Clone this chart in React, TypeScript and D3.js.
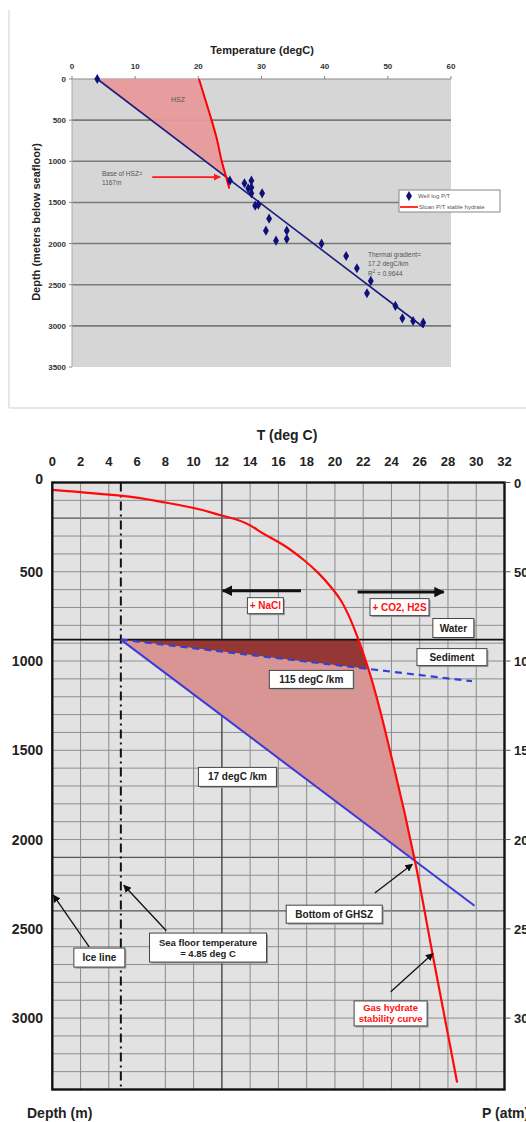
import React from 'react';
import * as d3 from 'd3';

// ---------- top panel: well log temperatures ----------
const wellTempTicks = [0, 10, 20, 30, 40, 50, 60];
const wellDepthTicks = [0, 500, 1000, 1500, 2000, 2500, 3000, 3500];
const wellLogTemp = [4, 25, 27.3, 28.4, 27.9, 28.4, 28.4, 30.1, 29, 29.5, 31.2, 30.7, 34, 32.3, 34, 39.5, 43.4, 45.1, 47.3, 46.7, 51.2, 52.3, 54, 55.6];
const wellLogDepth = [0, 1236, 1267, 1236, 1329, 1318, 1389, 1389, 1539, 1528, 1697, 1843, 1843, 1965, 1944, 2001, 2151, 2300, 2454, 2604, 2758, 2908, 2941, 2961];
const sloanTemp = [20.1, 21.1, 22.1, 23.0, 23.7, 24.4, 24.9];
const sloanDepth = [0, 250, 500, 750, 1000, 1190, 1330];
const trendTemp = [4, 55.7];
const trendDepth = [0, 3020];

// ---------- bottom panel: stability diagram ----------
const tempTicks = [0, 2, 4, 6, 8, 10, 12, 14, 16, 18, 20, 22, 24, 26, 28, 30, 32];
const depthTicks = [0, 500, 1000, 1500, 2000, 2500, 3000];
const pressureTicks = [0, 50, 100, 150, 200, 250, 300];
const hydrateTemp = [0, 4.8, 8, 10, 12, 12.8, 15.1, 16.35, 17.8, 18.85, 19.7, 20.4, 21.0, 21.65, 22.35, 24.1, 25.7, 26.9, 28.65];
const hydrateDepth = [41, 74, 112, 143, 185, 202, 294, 350, 434, 509, 584, 658, 750, 878, 1040, 1570, 2134, 2638, 3361];
const seafloorDepth = 880;
const seafloorTemp = 4.85;
const grad17Temp = [4.85, 29.88];
const grad17Depth = [880, 2371];
const grad115Temp = [4.85, 29.7];
const grad115Depth = [880, 1113];

// boxes: [text lines, T, depth, width, height, colour]
const boxes: [string[], number, number, number, number, string][] = [
  [['+ NaCl'], 15.08, 690, 36, 16, '#ff1010'],
  [['+ CO2, H2S'], 24.57, 698, 59, 17, '#ff1010'],
  [['Water'], 28.38, 815, 41, 19, '#222'],
  [['Sediment'], 28.28, 978, 70, 17, '#222'],
  [['115 degC /km'], 18.33, 1103, 84, 18, '#222'],
  [['17 degC /km'], 13.1, 1649, 78, 19, '#222'],
  [['Bottom of GHSZ'], 19.95, 2418, 96, 18, '#222'],
  [['Ice line'], 3.33, 2661, 51, 19, '#222'],
  [['Sea floor temperature', '= 4.85 deg C'], 11.02, 2605, 117, 29, '#222'],
  [['Gas hydrate', 'stability curve'], 23.94, 2974, 73, 25, '#ff1010'],
];
// pointer arrows: [T1, d1, T2, d2, width]
const pointers: [number, number, number, number, number][] = [
  [17.6, 606, 12.05, 606, 3],
  [21.6, 614, 27.7, 614, 3],
  [22.82, 2299, 25.48, 2138, 1.3],
  [2.61, 2601, 0.07, 2311, 1.3],
  [8.07, 2511, 5.06, 2256, 1.3],
  [23.95, 2852, 26.94, 2638, 1.3],
];

const font = 'Liberation Sans, Arial, sans-serif';

function crossDepth(f: (d: number) => number, g: (d: number) => number, lo: number, hi: number) {
  let a = lo, b = hi;
  const s = Math.sign(f(a) - g(a));
  for (let i = 0; i < 60; i++) {
    const m = (a + b) / 2;
    if (Math.sign(f(m) - g(m)) === s) a = m; else b = m;
  }
  return (a + b) / 2;
}

function TopChart() {
  const x = d3.scaleLinear().domain([0, 60]).range([72, 451]);
  const y = d3.scaleLinear().domain([0, 3500]).range([79, 367]);
  const sloanT = d3.scaleLinear().domain(sloanDepth).range(sloanTemp);
  const trendT = d3.scaleLinear().domain(trendDepth).range(trendTemp);
  const base = crossDepth(sloanT, trendT, 0, 1330);

  const line = d3.line<[number, number]>().x(p => x(p[0])).y(p => y(p[1]));
  const smooth = d3.line<[number, number]>().x(p => x(p[0])).y(p => y(p[1])).curve(d3.curveMonotoneY);
  const sloanPts: [number, number][] = sloanDepth.map((d, i) => [sloanTemp[i], d]);
  const hszCurve: [number, number][] = [];
  sloanPts.forEach(p => { if (p[1] < base) hszCurve.push(p); });
  hszCurve.push([sloanT(base), base]);
  const hszPath = `M${x(trendT(0))},${y(0)}L` + (smooth(hszCurve) || '').slice(1) + 'Z';

  const diamond = d3.symbol().type(d3.symbolDiamond).size(30)();

  return (
    <g fontFamily={font}>
      <line x1={9} y1={10} x2={9} y2={408} stroke="#cfcfcf" />
      <line x1={9} y1={408} x2={526} y2={408} stroke="#cfcfcf" />
      <rect x={x(0)} y={y(0)} width={x(60) - x(0)} height={y(3500) - y(0)} fill="#d6d6d6" />
      {wellDepthTicks.slice(1, -1).map(d => (
        <line key={d} x1={x(0)} x2={x(60)} y1={y(d)} y2={y(d)} stroke="#7a7a7a" strokeWidth={1.6} />
      ))}
      <line x1={x(0)} x2={x(60)} y1={y(0)} y2={y(0)} stroke="#8a8a8a" strokeWidth={1.2} />
      <line x1={x(0)} x2={x(0)} y1={y(0)} y2={y(3500)} stroke="#aaa" strokeWidth={1} />
      {wellTempTicks.map(t => (
        <g key={t}>
          <line x1={x(t)} x2={x(t)} y1={y(0) - 3} y2={y(0)} stroke="#888" />
          <text x={x(t)} y={69} textAnchor="middle" fontSize={8} fontWeight="bold" fill="#333">{t}</text>
        </g>
      ))}
      {wellDepthTicks.map(d => (
        <g key={d}>
          <line x1={x(0) - 3} x2={x(0)} y1={y(d)} y2={y(d)} stroke="#888" />
          <text x={66} y={y(d) + 3} textAnchor="end" fontSize={8} fontWeight="bold" fill="#333">{d}</text>
        </g>
      ))}
      <text x={262} y={54} textAnchor="middle" fontSize={11} fontWeight="bold" fill="#222">Temperature (degC)</text>
      <text transform="translate(40,222) rotate(-90)" textAnchor="middle" fontSize={11} fontWeight="bold" fill="#222">Depth (meters below seafloor)</text>

      <path d={hszPath} fill="#e89a9a" opacity={0.95} />
      <text x={178} y={102} textAnchor="middle" fontSize={7} fill="#555">HSZ</text>
      <path d={line(trendDepth.map((d, i) => [trendTemp[i], d]) as [number, number][]) || ''} stroke="#1c1c7c" strokeWidth={1.6} fill="none" />
      <path d={smooth(sloanPts) || ''} stroke="#ff0000" strokeWidth={2} fill="none" />
      {wellLogTemp.map((t, i) => (
        <path key={i} d={diamond || ''} transform={`translate(${x(t)},${y(wellLogDepth[i])})`} fill="#10107a" />
      ))}

      <line x1={x(12.7)} x2={x(sloanT(base)) - 6} y1={y(base)} y2={y(base)} stroke="#ff1a1a" strokeWidth={1.8} markerEnd="url(#arrRed)" />
      <text x={102} y={176} fontSize={6.5} fill="#555">Base of HSZ=</text>
      <text x={102} y={185} fontSize={6.5} fill="#555">1167m</text>

      <text x={368} y={257} fontSize={6.5} fill="#555">Thermal gradient=</text>
      <text x={368} y={266} fontSize={6.5} fill="#555">17.2 degC/km</text>
      <text x={368} y={276} fontSize={6.5} fill="#555">R<tspan dy={-3} fontSize={4.5}>2</tspan><tspan dy={3}> = 0.9644</tspan></text>

      <rect x={399} y={190} width={101} height={22} fill="#fff" stroke="#888" />
      <path d={diamond || ''} transform="translate(409,196)" fill="#10107a" />
      <text x={418} y={198} fontSize={6} fill="#555">Well log P/T</text>
      <line x1={400} x2={418} y1={207} y2={207} stroke="#ff1a1a" strokeWidth={1.8} />
      <text x={419} y={209} fontSize={6} fill="#555">Sloan P/T stable hydrate</text>
    </g>
  );
}

function BottomChart() {
  const x = d3.scaleLinear().domain([0, 32]).range([52.3, 504.5]);
  const y = d3.scaleLinear().domain([0, 3400]).range([482.5, 1089.5]);
  const hydT = d3.scaleLinear().domain(hydrateDepth).range(hydrateTemp);
  const solidT = d3.scaleLinear().domain(grad17Depth).range(grad17Temp);
  const dashT = d3.scaleLinear().domain(grad115Depth).range(grad115Temp);
  const dashCross = crossDepth(hydT, dashT, seafloorDepth, grad115Depth[1]);
  const solidCross = crossDepth(hydT, solidT, seafloorDepth, grad17Depth[1]);

  const line = d3.line<[number, number]>().x(p => x(p[0])).y(p => y(p[1]));
  const smooth = d3.line<[number, number]>().x(p => x(p[0])).y(p => y(p[1])).curve(d3.curveMonotoneY);
  const hydPts: [number, number][] = hydrateDepth.map((d, i) => [hydrateTemp[i], d]);

  const curveBetween = (d1: number, d2: number) => {
    const pts: [number, number][] = [[hydT(d1), d1]];
    hydPts.forEach(p => { if (p[1] > d1 && p[1] < d2) pts.push(p); });
    pts.push([hydT(d2), d2]);
    return (smooth(pts) || '').slice(1);
  };
  const darkPath = `M${x(seafloorTemp)},${y(seafloorDepth)}L` + curveBetween(seafloorDepth, dashCross) + 'Z';
  const pinkPath = `M${x(seafloorTemp)},${y(seafloorDepth)}L` + curveBetween(dashCross, solidCross) + 'Z';

  const gridDepths = d3.range(100, 3400, 100);
  const darkGrid = [200, 2100, 2400];

  return (
    <g fontFamily={font}>
      <defs>
        <clipPath id="plot2">
          <rect x={x(0)} y={y(0)} width={x(32) - x(0)} height={y(3400) - y(0)} />
        </clipPath>
      </defs>
      <rect x={x(0)} y={y(0)} width={x(32) - x(0)} height={y(3400) - y(0)} fill="#e2e2e2" />
      {gridDepths.map(d => (
        <line key={d} x1={x(0)} x2={x(32)} y1={y(d)} y2={y(d)}
          stroke={darkGrid.includes(d) ? '#555' : '#8f8f8f'} strokeWidth={darkGrid.includes(d) ? 1.3 : 1} />
      ))}
      {tempTicks.filter(t => t > 0 && t < 32 && t !== 6).map(t => (
        <line key={t} x1={x(t)} x2={x(t)} y1={y(0)} y2={y(3400)}
          stroke={t === 12 ? '#444' : '#8a8a8a'} strokeWidth={t === 12 ? 1.4 : 1} />
      ))}

      <g clipPath="url(#plot2)">
        <path d={pinkPath} fill="#d99594" />
        <path d={darkPath} fill="#953735" />
        <line x1={x(0)} x2={x(32)} y1={y(seafloorDepth)} y2={y(seafloorDepth)} stroke="#111" strokeWidth={1.8} />
        <line x1={x(seafloorTemp)} x2={x(seafloorTemp)} y1={y(0)} y2={y(3400)} stroke="#111" strokeWidth={2} strokeDasharray="9,4,2,4" />
        <path d={line(grad115Depth.map((d, i) => [grad115Temp[i], d]) as [number, number][]) || ''} stroke="#3342d6" strokeWidth={2.2} strokeDasharray="7,5" fill="none" />
        <path d={line(grad17Depth.map((d, i) => [grad17Temp[i], d]) as [number, number][]) || ''} stroke="#3a3ad8" strokeWidth={2} fill="none" />
        <path d={smooth(hydPts) || ''} stroke="#ff0a0a" strokeWidth={2.2} fill="none" />
      </g>

      <rect x={x(0)} y={y(0)} width={x(32) - x(0)} height={y(3400) - y(0)} fill="none" stroke="#111" strokeWidth={2.4} />

      {tempTicks.map(t => (
        <text key={t} x={x(t)} y={466} textAnchor="middle" fontSize={13} fontWeight="bold" fill="#222">{t}</text>
      ))}
      {depthTicks.map(d => (
        <text key={d} x={43} y={d === 0 ? 484 : y(d) + 5} textAnchor="end" fontSize={14} fontWeight="bold" fill="#222">{d}</text>
      ))}
      {pressureTicks.map((p, i) => (
        <g key={p}>
          <line x1={x(32)} x2={x(32) + 6} y1={y(depthTicks[i])} y2={y(depthTicks[i])} stroke="#555" />
          <text x={514} y={y(depthTicks[i]) + 5} fontSize={13} fontWeight="bold" fill="#222">{p}</text>
        </g>
      ))}
      <text x={287} y={440} textAnchor="middle" fontSize={14} fontWeight="bold" fill="#222">T (deg C)</text>
      <text x={27} y={1118} fontSize={14} fontWeight="bold" fill="#222">Depth (m)</text>
      <text x={482} y={1118} fontSize={14} fontWeight="bold" fill="#222">P (atm)</text>

      {pointers.map((p, i) => (
        <line key={i} x1={x(p[0])} y1={y(p[1])} x2={x(p[2])} y2={y(p[3])} stroke="#111" strokeWidth={p[4]}
          markerEnd={p[4] > 2 ? 'url(#arrBig)' : 'url(#arrSmall)'} />
      ))}

      {boxes.map(([lines, t, d, w, h, c], i) => (
        <g key={i} transform={`translate(${x(t)},${y(d)})`}>
          <rect x={-w / 2 + 1.5} y={-h / 2 + 1.5} width={w} height={h} fill="#9a9a9a" />
          <rect x={-w / 2} y={-h / 2} width={w} height={h} fill="#fff" stroke="#444" strokeWidth={1} />
          {lines.map((s, k) => (
            <text key={k} x={0} y={(k - (lines.length - 1) / 2) * 11 + 3.5} textAnchor="middle"
              fontSize={lines.length > 1 ? 9.5 : 10} fontWeight="bold" fill={c}>{s}</text>
          ))}
        </g>
      ))}
    </g>
  );
}

export default function App() {
  return (
    <div style={{ position: 'fixed', left: 0, top: 0, width: 526, height: 1122, overflow: 'hidden', background: '#fff' }}>
      <svg width={526} height={1122} style={{ display: 'block' }}>
        <defs>
          <marker id="arrRed" viewBox="0 0 10 10" refX={9} refY={5} markerWidth={4} markerHeight={4} orient="auto">
            <path d="M0,0L10,5L0,10Z" fill="#ff1a1a" />
          </marker>
          <marker id="arrBig" viewBox="0 0 10 10" refX={9} refY={5} markerWidth={3.5} markerHeight={3.5} orient="auto">
            <path d="M0,0L10,5L0,10Z" fill="#111" />
          </marker>
          <marker id="arrSmall" viewBox="0 0 10 10" refX={9} refY={5} markerWidth={6} markerHeight={6} orient="auto">
            <path d="M0,0L10,5L0,10Z" fill="#111" />
          </marker>
        </defs>
        <TopChart />
        <BottomChart />
      </svg>
    </div>
  );
}
